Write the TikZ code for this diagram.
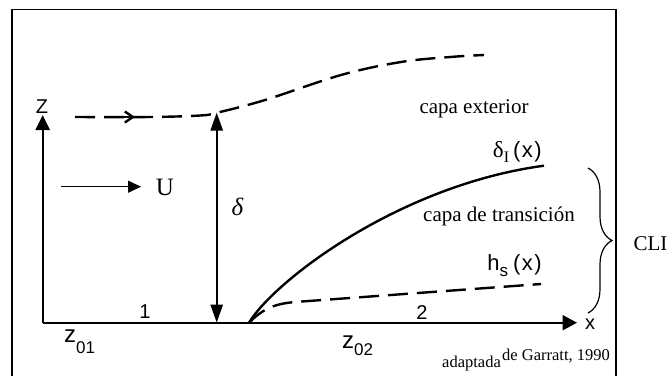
\documentclass[tikz,border=0pt]{standalone}
\usepackage{fontspec}
\setmainfont{Liberation Serif}
\setsansfont{Liberation Sans}
\usetikzlibrary{arrows.meta,decorations.pathreplacing}
\begin{document}
\begin{tikzpicture}[x=1pt,y=-1pt,
  thickline/.style={line width=2.4pt},
  dashline/.style={line width=2.4pt, dash pattern=on 20pt off 9pt},
  serif/.style={font=\fontsize{21}{21}\selectfont, inner sep=0pt},
  sans/.style={font=\sffamily\fontsize{20}{20}\selectfont, inner sep=0pt},
  small/.style={font=\fontsize{16.5}{16.5}\selectfont, inner sep=0pt},
  bigtip/.style={-{Triangle[length=15pt,width=14pt]}}
]
\useasboundingbox (0,0) rectangle (669,376);
% frame
\draw[line width=1.6pt] (12,376) -- (12,9.5) -- (616,9.5) -- (616,376);

% axes
\coordinate (O) at (42.7,322.7);
\coordinate (Ztop) at (42.7,115);
\coordinate (Xend) at (577,322.7);
\draw[thickline, bigtip] (O) -- (Ztop);
\draw[thickline, -{Triangle[length=14.5pt,width=15pt]}] (O) -- (Xend);
\node[sans] (zlab) at (42,106.5) {Z};
\node[sans] (xlab) at (590,324) {x};
\node[sans] (one) at (145,311.5) {1};
\node[sans] (two) at (422,312.5) {2};

% outer boundary (dashed)
\draw[dashline] plot[smooth, tension=0.6] coordinates {(75,117) (150,117) (200,115.5) (217,112.7) (265,100) (341,75) (401,62) (450,57) (484,55)};
\coordinate (A1) at (112,117);
\coordinate (A2) at (135,117);
\draw[line width=2.4pt, -{Straight Barb[length=8pt,width=11pt]}] (A1) -- (A2);

% delta arrow
\coordinate (D1) at (216.7,322.7);
\coordinate (D2) at (216.7,112.5);
\draw[thickline, {Triangle[length=18pt,width=12pt]}-{Triangle[length=18pt,width=12pt]}] (D1) -- (D2);
\node[inner sep=0pt, font=\fontsize{25}{25}\selectfont\itshape] (delta) at (237.5,206.5) {δ};

% U arrow
\coordinate (U1) at (61,186.7);
\coordinate (U2) at (141,186.7);
\draw[line width=1.2pt, -{Triangle[length=13pt,width=12pt]}] (U1) -- (U2);
\node[inner sep=0pt, font=\fontsize{25}{25}\selectfont] (U) at (165,187) {U};

% internal boundary layer
\coordinate (S) at (249,322.7);
\coordinate (DI) at (544,165.7);
\coordinate (HS) at (541,284);
\draw[thickline] (S) .. controls (275,280) and (400,185) .. (DI);
\draw[dashline] (S) .. controls (262,310) and (272,304) .. (295,302) -- (HS);

\node[inner sep=0pt, anchor=base east] (dIlab) at (542,157)
  {{\fontsize{23}{23}\selectfont δ}\raisebox{-5pt}{\fontsize{16}{16}\selectfont I}\hspace{4pt}{\sffamily\fontsize{22}{22}\selectfont (\hspace{1.5pt}x\hspace{1.5pt})}};
\node[inner sep=0pt, anchor=base east] (hslab) at (542,270)
  {\sffamily\fontsize{22}{22}\selectfont h\raisebox{-6pt}{\fontsize{17}{17}\selectfont s}\hspace{5pt}(\hspace{1.5pt}x\hspace{1.5pt})};

% layer names
\node[serif, anchor=base] (ext) at (474,113) {capa exterior};
\node[serif, anchor=base] (trans) at (499,221.7) {capa de transición};

% brace
\draw[line width=1.2pt, decorate, decoration={brace, amplitude=24pt}] (588,168) -- (588,313);
\node[serif, anchor=base] (cli) at (650.5,250) {CLI};

% roughness labels
\node[inner sep=0pt, anchor=base west, font=\sffamily\fontsize{24}{24}\selectfont] (z01) at (64,342)
  {z\raisebox{-11pt}{\fontsize{17}{17}\selectfont 01}};
\node[inner sep=0pt, anchor=base west, font=\sffamily\fontsize{24}{24}\selectfont] (z02) at (342,348)
  {z\raisebox{-7pt}{\fontsize{17}{17}\selectfont 02}};

% source
\node[small, anchor=base west] (src1) at (442,367) {adaptada};
\node[small, anchor=base west] (src2) at (502,360) {de Garratt, 1990};
\end{tikzpicture}
\end{document}
